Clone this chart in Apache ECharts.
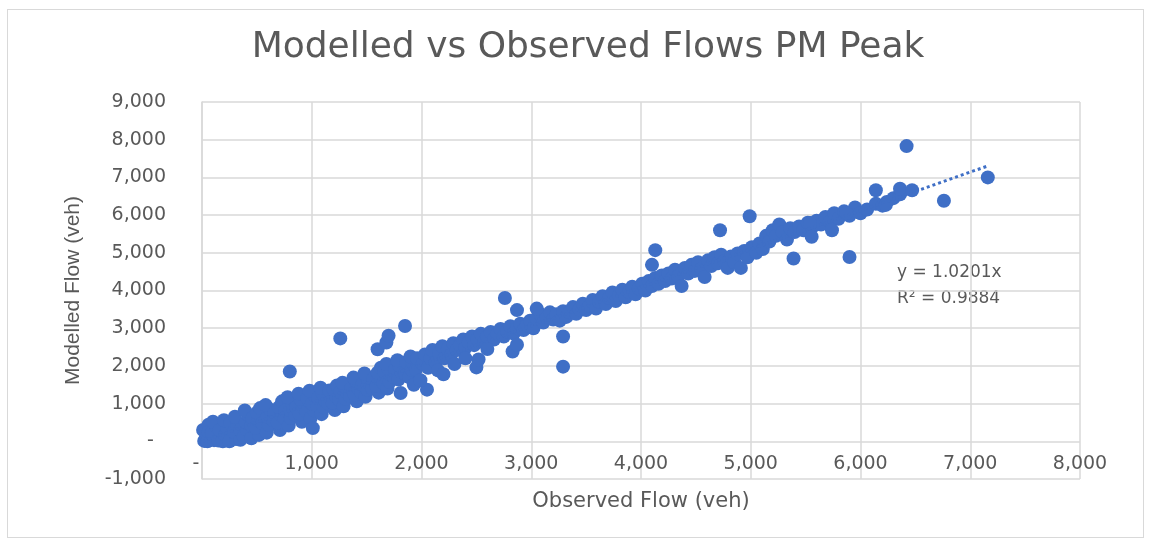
<!DOCTYPE html>
<html>
<head>
<meta charset="utf-8">
<script src="https://cdn.jsdelivr.net/npm/echarts@6/dist/echarts.min.js"></script>
<style>
  body { margin: 0; background: #fff; }
  #chart { width: 1151px; height: 540px; }
  #frame { position: absolute; left: 7px; top: 9px; width: 1135px; height: 527px; border: 1px solid #d9d9d9; pointer-events: none; }
</style>
</head>
<body>
<div id="chart"></div>
<div id="frame"></div>
<script>
// observed / modelled pairs
var lowFlows = [
  [20,10],[40,160],[10,300],[60,440],[80,90],[50,0],[60,250],
  [110,30],[90,220],[130,390],[100,520],[150,20],[160,300],
  [190,0],[210,170],[230,350],[200,560],[250,0],[260,480],
  [310,60],[290,250],[320,430],[300,650],[350,40],[350,300],
  [380,120],[410,300],[400,500],[420,700],[390,820],[450,80],[450,420],[460,620],
  [520,170],[490,360],[510,560],[500,760],[530,880],[550,480],
  [590,230],[610,430],[600,640],[620,840],[580,960],[650,560],[660,760],
  [710,300],[690,500],[720,700],[700,900],[730,1060],[750,620],[760,820],
  [790,420],[810,620],[800,820],[820,1000],[780,1170],[850,700],[860,900],
  [910,520],[890,720],[920,920],[900,1100],[880,1260],[950,800],[960,1150],
  [990,620],[1020,820],[1000,1000],[1030,1200],[980,1340],[1050,950],[1060,1150],
  [1090,720],[1110,900],[1120,1080],[1100,1260],[1080,1420],[1150,1000],[1160,1350],
  [1210,830],[1190,1020],[1220,1200],[1200,1370],[1230,1480],[1250,1100],[1260,1300],
  [1290,930],[1310,1120],[1320,1300],[1300,1440],[1280,1550],[1350,1200],[1360,1400],
  [1410,1060],[1390,1240],[1420,1420],[1400,1600],[1380,1690],[1450,1300],[1460,1500],
  [1490,1180],[1510,1360],[1520,1540],[1500,1700],[1480,1800],[1550,1400],[1560,1650],
  [1610,1290],[1590,1470],[1620,1650],[1600,1820],[1630,1950],[1650,1550],[1660,1850],
  [1690,1400],[1710,1580],[1720,1760],[1700,1920],[1680,2050],[1750,1700],[1760,1900],
  [1810,1280],[1790,1640],[1820,1830],[1800,2000],[1780,2150],[1850,1800],[1860,2100],
  [1890,1700],[1910,1900],[1920,2080],[1900,2250],[1930,1500],[1950,1900],[1960,2200]
];
var midFlows = [
  [2010,2050],[2030,2300],[2060,1950],[2080,2200],[2100,2420],[2130,2100],
  [2160,2330],[2190,2520],[2210,2200],[2240,2450],[2270,2300],[2290,2600],
  [2320,2420],[2350,2550],[2380,2700],[2400,2480],[2430,2620],[2460,2780],
  [2480,2550],[2510,2700],[2540,2850],[2570,2620],[2600,2780],[2630,2900],
  [2660,2700],[2690,2850],[2720,2980],[2750,2780],[2780,2920],[2810,3050],
  [2840,2860],[2870,3000],[2900,3120],[2930,2950],[2960,3080],[2990,3200],
  [2050,1370],[1990,1620],[2150,1880],[2200,1780],[2300,2050],[2400,2200],
  [2600,2450],[2830,2380],[2870,2560],
  [3020,3000],[3050,3250],[3080,3380],[3110,3150],[3140,3300],[3170,3420],
  [3200,3230],[3230,3370],[3260,3200],[3290,3450],[3320,3300],[3350,3420],
  [3380,3560],[3410,3380],[3440,3500],[3470,3650],[3500,3480],[3530,3600],
  [3560,3750],[3590,3520],[3620,3700],[3650,3850],[3680,3640],[3710,3800],
  [3740,3950],[3770,3720],[3800,3880],[3830,4020],[3860,3820],[3890,3960],
  [3920,4100],[3950,3900],[3980,4050]
];
var highFlows = [
  [4010,4180],[4040,4000],[4070,4250],[4100,4120],[4130,4330],[4160,4180],
  [4190,4400],[4220,4250],[4250,4450],[4280,4320],[4310,4550],[4340,4380],
  [4370,4120],[4400,4600],[4430,4450],[4460,4680],[4490,4520],[4520,4750],
  [4550,4580],[4580,4360],[4610,4800],[4640,4650],[4670,4880],[4700,4720],
  [4730,4950],[4760,4780],[4790,4600],[4820,4900],[4850,4750],[4880,4980],
  [4910,4600],[4940,5050],[4970,4880],
  [5010,5150],[5050,5000],[5080,5250],[5110,5100],[5140,5450],[5170,5300],
  [5200,5600],[5230,5450],[5260,5750],[5290,5550],[5330,5350],[5360,5650],
  [5400,5550],[5440,5700],[5480,5600],[5520,5800],[5560,5680],[5600,5850],
  [5640,5750],[5680,5950],[5720,5830],[5760,6050],[5800,5900],[5850,6100],
  [5900,5980],[5950,6200],[6000,6050],[6060,6150],[6140,6300],[6200,6250],
  [6240,6350],[6300,6450],[6360,6550]
];
var outliers = [
  [800,1850],[1010,350],[1260,2730],[1600,2440],[1680,2620],[1700,2800],[1850,3060],
  [2500,1960],[2520,2170],[2760,3800],[2870,3480],[3050,3520],[3290,2780],[3290,1980],
  [4100,4680],[4130,5070],[4720,5600],[4990,5970],
  [5390,4850],[5900,4890],[5555,5425],[5540,5790],[5740,5600],[5870,6050],
  [6140,6660],[6360,6700],[6470,6660],[6230,6270],[6420,7830],[6760,6380],[7160,7000]
];
var trendSlope = 1.0201;
var trendText = 'y = 1.0201x\nR\u00b2 = 0.9884';
var xTicks = [0, 8000, 1000];   // min, max, step
var yTicks = [-1000, 9000, 1000];

var points = lowFlows.concat(midFlows, highFlows, outliers);
var maxObs = Math.max.apply(null, points.map(function (p) { return p[0]; }));
var trend = [[0, 0], [maxObs, trendSlope * maxObs]];

function fmt(v) {
  if (v === 0) return '-  ';
  return v.toLocaleString('en-US');
}

var chart = echarts.init(document.getElementById('chart'));
var grey = '#595959';
var gridColor = '#d9d9d9';
var option = {
  animation: false,
  backgroundColor: '#ffffff',
  grid: { left: 202, right: 71, top: 102, bottom: 61, containLabel: false },
  graphic: [{
    type: 'text', x: 588, y: 48,
    style: { text: 'Modelled vs Observed Flows PM Peak', font: '36px "DejaVu Sans"', fill: grey, align: 'center', verticalAlign: 'middle' }
  }, {
    type: 'text', x: 897, y: 260,
    style: { text: trendText, font: '17px "DejaVu Sans"', lineHeight: 26, fill: grey, align: 'left', verticalAlign: 'top' }
  }],
  xAxis: {
    type: 'value', min: xTicks[0], max: xTicks[1], interval: xTicks[2],
    name: 'Observed Flow (veh)', nameLocation: 'middle', nameGap: 12,
    nameTextStyle: { fontFamily: 'DejaVu Sans', fontSize: 21, color: grey },
    axisLine: { show: false, onZero: false },
    axisTick: { show: false },
    // labels sit just under the y = 0 line, inside the bottom band of the plot
    axisLabel: { formatter: fmt, fontFamily: 'DejaVu Sans', fontSize: 19, color: grey, margin: -24 },
    splitLine: { lineStyle: { color: gridColor, width: 1.5 } }
  },
  yAxis: {
    type: 'value', min: yTicks[0], max: yTicks[1], interval: yTicks[2],
    name: 'Modelled Flow (veh)', nameLocation: 'middle', nameGap: 118,
    nameTextStyle: { fontFamily: 'Liberation Sans', fontSize: 21, color: grey },
    axisLine: { show: true, onZero: false, lineStyle: { color: gridColor, width: 1.5 } },
    axisTick: { show: false },
    axisLabel: { formatter: fmt, fontFamily: 'DejaVu Sans', fontSize: 19, color: grey, margin: 36 },
    splitLine: { lineStyle: { color: gridColor, width: 1.5 } }
  },
  series: [{
    type: 'scatter',
    symbolSize: 14,
    itemStyle: { color: '#3f6fc6', opacity: 1 },
    data: points
  }, {
    type: 'line',
    symbol: 'none',
    lineStyle: { color: '#3f6fc6', width: 3, type: 'dotted' },
    data: trend
  }]
};
chart.setOption(option);
</script>
</body>
</html>
